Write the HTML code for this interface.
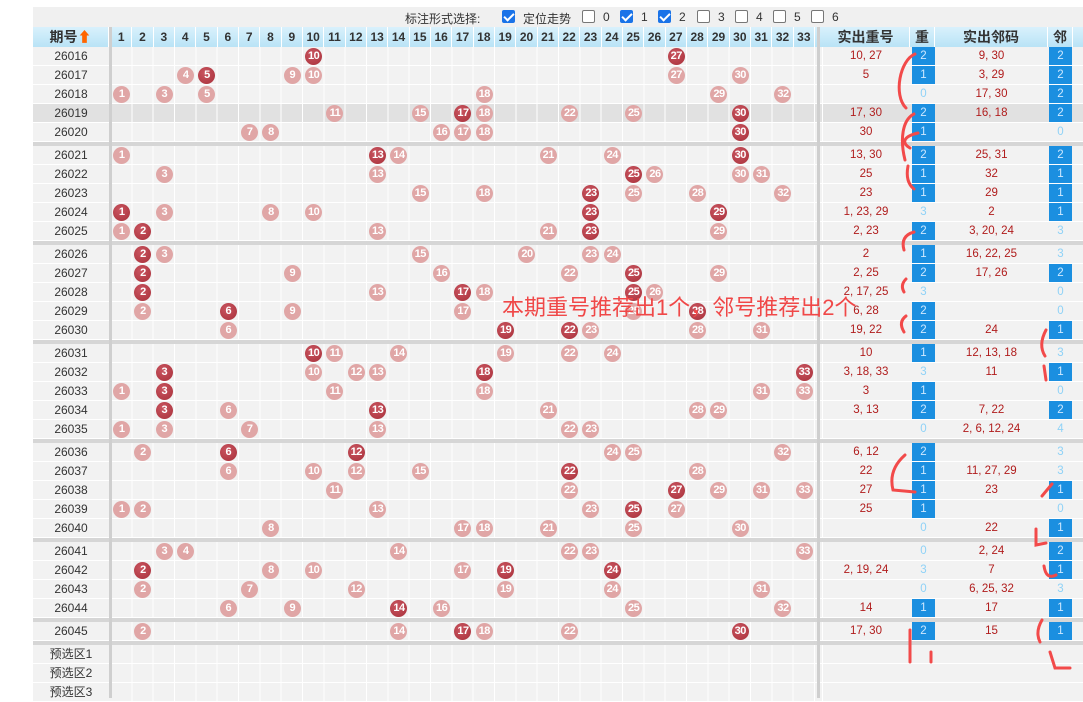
<!DOCTYPE html>
<html><head><meta charset="utf-8">
<style>
*{margin:0;padding:0;box-sizing:border-box}
body{width:1083px;height:698px;background:#fff;position:relative;overflow:hidden;font-family:"Liberation Sans","Noto Sans CJK SC",sans-serif;font-size:12px;color:#333}
.top{position:absolute;left:33px;top:7px;width:1050px;height:20px;background:#f0f0f0}
.top span{position:absolute;top:3px;font-size:12px;color:#333}
.cb{position:absolute;top:3px;width:13px;height:13px;border:1px solid #777;border-radius:2px;background:#fff}
.cb.on{background:#1a73e8;border-color:#1a73e8}
.cb.on:after{content:"";position:absolute;left:3px;top:0px;width:4px;height:8px;border:solid #fff;border-width:0 2px 2px 0;transform:rotate(45deg)}
.hd{position:absolute;left:33px;top:27px;width:1050px;height:20px;background:linear-gradient(#d9f1fc,#b9e3f6)}
.hd span{position:absolute;top:0;height:20px;line-height:20px;text-align:center;font-weight:bold;color:#333;border-right:1px solid #fff}
.hn{position:absolute;left:78px;top:0;width:704px;height:20px;}
.hn span{width:21.333px;font-size:12px}
.r{position:absolute;left:33px;width:1050px;height:19px;background:#f2f2f2;border-bottom:1px solid #fff}
.r.hl{background:#e1e1e1}
.r .p{position:absolute;left:0;width:76px;text-align:center;line-height:19px;color:#333}
.r:before{content:"";position:absolute;left:78px;top:0;width:704px;height:19px;background:repeating-linear-gradient(to right,transparent 0 20.333px,#fff 20.333px 21.333px)}
.b{position:absolute;top:1px;left:calc(var(--n)*21.333px + 58.8px);width:17px;height:17px;border-radius:50%;color:#fff;font-weight:bold;font-style:normal;font-size:11px;line-height:17px;text-align:center;letter-spacing:-0.5px}
.d{background:radial-gradient(circle at 40% 35%,#c95560,#a8303a)}
.l{background:#e0a6a6}
.c1,.c3{position:absolute;top:0;line-height:19px;text-align:center;color:#b01c1c;font-size:11.5px}
.c1{left:789px;width:88px}
.c3{left:902px;width:113px}
.c2,.c4{position:absolute;top:0;height:18px;line-height:18px;text-align:center;color:#8fd2f7;font-size:11.5px}
.c2{left:879px;width:23px}
.c4{left:1016px;width:23px}
.bl{background:#1b8fe0;color:#cfe9ff}
.sep{position:absolute;left:33px;width:1050px;height:4px;background:#d6d6d6}
.vl{position:absolute;top:27px;width:3px;height:671px;background:#cfcfcf}
.rc:after{content:"";position:absolute;left:789px;top:0;width:1px;height:19px;background:#fff}
</style></head><body>
<div class="top">
<span style="left:372px">标注形式选择:</span>
<div class="cb on" style="left:469px"></div><span style="left:490px">定位走势</span>
<div class="cb" style="left:549px"></div><span style="left:570px">0</span>
<div class="cb on" style="left:587px"></div><span style="left:608px">1</span>
<div class="cb on" style="left:625px"></div><span style="left:646px">2</span>
<div class="cb" style="left:664px"></div><span style="left:685px">3</span>
<div class="cb" style="left:702px"></div><span style="left:723px">4</span>
<div class="cb" style="left:740px"></div><span style="left:761px">5</span>
<div class="cb" style="left:778px"></div><span style="left:799px">6</span>
</div>
<div class="hd">
<span style="left:0;width:76px;font-size:14px">期号<b style="color:#f60">⬆</b></span>
<div class="hn">
<span style="left:0">1</span><span style="left:21.33px">2</span><span style="left:42.67px">3</span><span style="left:64px">4</span><span style="left:85.33px">5</span><span style="left:106.67px">6</span><span style="left:128px">7</span><span style="left:149.33px">8</span><span style="left:170.67px">9</span><span style="left:192px">10</span><span style="left:213.33px">11</span><span style="left:234.67px">12</span><span style="left:256px">13</span><span style="left:277.33px">14</span><span style="left:298.67px">15</span><span style="left:320px">16</span><span style="left:341.33px">17</span><span style="left:362.67px">18</span><span style="left:384px">19</span><span style="left:405.33px">20</span><span style="left:426.67px">21</span><span style="left:448px">22</span><span style="left:469.33px">23</span><span style="left:490.67px">24</span><span style="left:512px">25</span><span style="left:533.33px">26</span><span style="left:554.67px">27</span><span style="left:576px">28</span><span style="left:597.33px">29</span><span style="left:618.67px">30</span><span style="left:640px">31</span><span style="left:661.33px">32</span><span style="left:682.67px">33</span>
</div>
<span style="left:789px;width:88px;font-size:14px">实出重号</span>
<span style="left:877px;width:25px;font-size:14px">重</span>
<span style="left:902px;width:113px;font-size:14px">实出邻码</span>
<span style="left:1015px;width:25px;font-size:14px">邻</span>
</div>

<div class="r rc" style="top:47px"><span class="p">26016</span><i class="b d" style="--n:10">10</i><i class="b d" style="--n:27">27</i><span class="c1">10, 27</span><span class="c2 bl">2</span><span class="c3">9, 30</span><span class="c4 bl">2</span></div>
<div class="r rc" style="top:66px"><span class="p">26017</span><i class="b l" style="--n:4">4</i><i class="b d" style="--n:5">5</i><i class="b l" style="--n:9">9</i><i class="b l" style="--n:10">10</i><i class="b l" style="--n:27">27</i><i class="b l" style="--n:30">30</i><span class="c1">5</span><span class="c2 bl">1</span><span class="c3">3, 29</span><span class="c4 bl">2</span></div>
<div class="r rc" style="top:85px"><span class="p">26018</span><i class="b l" style="--n:1">1</i><i class="b l" style="--n:3">3</i><i class="b l" style="--n:5">5</i><i class="b l" style="--n:18">18</i><i class="b l" style="--n:29">29</i><i class="b l" style="--n:32">32</i><span class="c2">0</span><span class="c3">17, 30</span><span class="c4 bl">2</span></div>
<div class="r rc hl" style="top:104px"><span class="p">26019</span><i class="b l" style="--n:11">11</i><i class="b l" style="--n:15">15</i><i class="b d" style="--n:17">17</i><i class="b l" style="--n:18">18</i><i class="b l" style="--n:22">22</i><i class="b l" style="--n:25">25</i><i class="b d" style="--n:30">30</i><span class="c1">17, 30</span><span class="c2 bl">2</span><span class="c3">16, 18</span><span class="c4 bl">2</span></div>
<div class="r rc" style="top:123px"><span class="p">26020</span><i class="b l" style="--n:7">7</i><i class="b l" style="--n:8">8</i><i class="b l" style="--n:16">16</i><i class="b l" style="--n:17">17</i><i class="b l" style="--n:18">18</i><i class="b d" style="--n:30">30</i><span class="c1">30</span><span class="c2 bl">1</span><span class="c4">0</span></div>
<div class="sep" style="top:142px"></div>

<div class="r rc" style="top:146px"><span class="p">26021</span><i class="b l" style="--n:1">1</i><i class="b d" style="--n:13">13</i><i class="b l" style="--n:14">14</i><i class="b l" style="--n:21">21</i><i class="b l" style="--n:24">24</i><i class="b d" style="--n:30">30</i><span class="c1">13, 30</span><span class="c2 bl">2</span><span class="c3">25, 31</span><span class="c4 bl">2</span></div>
<div class="r rc" style="top:165px"><span class="p">26022</span><i class="b l" style="--n:3">3</i><i class="b l" style="--n:13">13</i><i class="b d" style="--n:25">25</i><i class="b l" style="--n:26">26</i><i class="b l" style="--n:30">30</i><i class="b l" style="--n:31">31</i><span class="c1">25</span><span class="c2 bl">1</span><span class="c3">32</span><span class="c4 bl">1</span></div>
<div class="r rc" style="top:184px"><span class="p">26023</span><i class="b l" style="--n:15">15</i><i class="b l" style="--n:18">18</i><i class="b d" style="--n:23">23</i><i class="b l" style="--n:25">25</i><i class="b l" style="--n:28">28</i><i class="b l" style="--n:32">32</i><span class="c1">23</span><span class="c2 bl">1</span><span class="c3">29</span><span class="c4 bl">1</span></div>
<div class="r rc" style="top:203px"><span class="p">26024</span><i class="b d" style="--n:1">1</i><i class="b l" style="--n:3">3</i><i class="b l" style="--n:8">8</i><i class="b l" style="--n:10">10</i><i class="b d" style="--n:23">23</i><i class="b d" style="--n:29">29</i><span class="c1">1, 23, 29</span><span class="c2">3</span><span class="c3">2</span><span class="c4 bl">1</span></div>
<div class="r rc" style="top:222px"><span class="p">26025</span><i class="b l" style="--n:1">1</i><i class="b d" style="--n:2">2</i><i class="b l" style="--n:13">13</i><i class="b l" style="--n:21">21</i><i class="b d" style="--n:23">23</i><i class="b l" style="--n:29">29</i><span class="c1">2, 23</span><span class="c2 bl">2</span><span class="c3">3, 20, 24</span><span class="c4">3</span></div>
<div class="sep" style="top:241px"></div>

<div class="r rc" style="top:245px"><span class="p">26026</span><i class="b d" style="--n:2">2</i><i class="b l" style="--n:3">3</i><i class="b l" style="--n:15">15</i><i class="b l" style="--n:20">20</i><i class="b l" style="--n:23">23</i><i class="b l" style="--n:24">24</i><span class="c1">2</span><span class="c2 bl">1</span><span class="c3">16, 22, 25</span><span class="c4">3</span></div>
<div class="r rc" style="top:264px"><span class="p">26027</span><i class="b d" style="--n:2">2</i><i class="b l" style="--n:9">9</i><i class="b l" style="--n:16">16</i><i class="b l" style="--n:22">22</i><i class="b d" style="--n:25">25</i><i class="b l" style="--n:29">29</i><span class="c1">2, 25</span><span class="c2 bl">2</span><span class="c3">17, 26</span><span class="c4 bl">2</span></div>
<div class="r rc" style="top:283px"><span class="p">26028</span><i class="b d" style="--n:2">2</i><i class="b l" style="--n:13">13</i><i class="b d" style="--n:17">17</i><i class="b l" style="--n:18">18</i><i class="b d" style="--n:25">25</i><i class="b l" style="--n:26">26</i><span class="c1">2, 17, 25</span><span class="c2">3</span><span class="c4">0</span></div>
<div class="r rc" style="top:302px"><span class="p">26029</span><i class="b l" style="--n:2">2</i><i class="b d" style="--n:6">6</i><i class="b l" style="--n:9">9</i><i class="b l" style="--n:17">17</i><i class="b l" style="--n:25">25</i><i class="b d" style="--n:28">28</i><span class="c1">6, 28</span><span class="c2 bl">2</span><span class="c4">0</span></div>
<div class="r rc" style="top:321px"><span class="p">26030</span><i class="b l" style="--n:6">6</i><i class="b d" style="--n:19">19</i><i class="b d" style="--n:22">22</i><i class="b l" style="--n:23">23</i><i class="b l" style="--n:28">28</i><i class="b l" style="--n:31">31</i><span class="c1">19, 22</span><span class="c2 bl">2</span><span class="c3">24</span><span class="c4 bl">1</span></div>
<div class="sep" style="top:340px"></div>

<div class="r rc" style="top:344px"><span class="p">26031</span><i class="b d" style="--n:10">10</i><i class="b l" style="--n:11">11</i><i class="b l" style="--n:14">14</i><i class="b l" style="--n:19">19</i><i class="b l" style="--n:22">22</i><i class="b l" style="--n:24">24</i><span class="c1">10</span><span class="c2 bl">1</span><span class="c3">12, 13, 18</span><span class="c4">3</span></div>
<div class="r rc" style="top:363px"><span class="p">26032</span><i class="b d" style="--n:3">3</i><i class="b l" style="--n:10">10</i><i class="b l" style="--n:12">12</i><i class="b l" style="--n:13">13</i><i class="b d" style="--n:18">18</i><i class="b d" style="--n:33">33</i><span class="c1">3, 18, 33</span><span class="c2">3</span><span class="c3">11</span><span class="c4 bl">1</span></div>
<div class="r rc" style="top:382px"><span class="p">26033</span><i class="b l" style="--n:1">1</i><i class="b d" style="--n:3">3</i><i class="b l" style="--n:11">11</i><i class="b l" style="--n:18">18</i><i class="b l" style="--n:31">31</i><i class="b l" style="--n:33">33</i><span class="c1">3</span><span class="c2 bl">1</span><span class="c4">0</span></div>
<div class="r rc" style="top:401px"><span class="p">26034</span><i class="b d" style="--n:3">3</i><i class="b l" style="--n:6">6</i><i class="b d" style="--n:13">13</i><i class="b l" style="--n:21">21</i><i class="b l" style="--n:28">28</i><i class="b l" style="--n:29">29</i><span class="c1">3, 13</span><span class="c2 bl">2</span><span class="c3">7, 22</span><span class="c4 bl">2</span></div>
<div class="r rc" style="top:420px"><span class="p">26035</span><i class="b l" style="--n:1">1</i><i class="b l" style="--n:3">3</i><i class="b l" style="--n:7">7</i><i class="b l" style="--n:13">13</i><i class="b l" style="--n:22">22</i><i class="b l" style="--n:23">23</i><span class="c2">0</span><span class="c3">2, 6, 12, 24</span><span class="c4">4</span></div>
<div class="sep" style="top:439px"></div>

<div class="r rc" style="top:443px"><span class="p">26036</span><i class="b l" style="--n:2">2</i><i class="b d" style="--n:6">6</i><i class="b d" style="--n:12">12</i><i class="b l" style="--n:24">24</i><i class="b l" style="--n:25">25</i><i class="b l" style="--n:32">32</i><span class="c1">6, 12</span><span class="c2 bl">2</span><span class="c4">3</span></div>
<div class="r rc" style="top:462px"><span class="p">26037</span><i class="b l" style="--n:6">6</i><i class="b l" style="--n:10">10</i><i class="b l" style="--n:12">12</i><i class="b l" style="--n:15">15</i><i class="b d" style="--n:22">22</i><i class="b l" style="--n:28">28</i><span class="c1">22</span><span class="c2 bl">1</span><span class="c3">11, 27, 29</span><span class="c4">3</span></div>
<div class="r rc" style="top:481px"><span class="p">26038</span><i class="b l" style="--n:11">11</i><i class="b l" style="--n:22">22</i><i class="b d" style="--n:27">27</i><i class="b l" style="--n:29">29</i><i class="b l" style="--n:31">31</i><i class="b l" style="--n:33">33</i><span class="c1">27</span><span class="c2 bl">1</span><span class="c3">23</span><span class="c4 bl">1</span></div>
<div class="r rc" style="top:500px"><span class="p">26039</span><i class="b l" style="--n:1">1</i><i class="b l" style="--n:2">2</i><i class="b l" style="--n:13">13</i><i class="b l" style="--n:23">23</i><i class="b d" style="--n:25">25</i><i class="b l" style="--n:27">27</i><span class="c1">25</span><span class="c2 bl">1</span><span class="c4">0</span></div>
<div class="r rc" style="top:519px"><span class="p">26040</span><i class="b l" style="--n:8">8</i><i class="b l" style="--n:17">17</i><i class="b l" style="--n:18">18</i><i class="b l" style="--n:21">21</i><i class="b l" style="--n:25">25</i><i class="b l" style="--n:30">30</i><span class="c2">0</span><span class="c3">22</span><span class="c4 bl">1</span></div>
<div class="sep" style="top:538px"></div>

<div class="r rc" style="top:542px"><span class="p">26041</span><i class="b l" style="--n:3">3</i><i class="b l" style="--n:4">4</i><i class="b l" style="--n:14">14</i><i class="b l" style="--n:22">22</i><i class="b l" style="--n:23">23</i><i class="b l" style="--n:33">33</i><span class="c2">0</span><span class="c3">2, 24</span><span class="c4 bl">2</span></div>
<div class="r rc" style="top:561px"><span class="p">26042</span><i class="b d" style="--n:2">2</i><i class="b l" style="--n:8">8</i><i class="b l" style="--n:10">10</i><i class="b l" style="--n:17">17</i><i class="b d" style="--n:19">19</i><i class="b d" style="--n:24">24</i><span class="c1">2, 19, 24</span><span class="c2">3</span><span class="c3">7</span><span class="c4 bl">1</span></div>
<div class="r rc" style="top:580px"><span class="p">26043</span><i class="b l" style="--n:2">2</i><i class="b l" style="--n:7">7</i><i class="b l" style="--n:12">12</i><i class="b l" style="--n:19">19</i><i class="b l" style="--n:24">24</i><i class="b l" style="--n:31">31</i><span class="c2">0</span><span class="c3">6, 25, 32</span><span class="c4">3</span></div>
<div class="r rc" style="top:599px"><span class="p">26044</span><i class="b l" style="--n:6">6</i><i class="b l" style="--n:9">9</i><i class="b d" style="--n:14">14</i><i class="b l" style="--n:16">16</i><i class="b l" style="--n:25">25</i><i class="b l" style="--n:32">32</i><span class="c1">14</span><span class="c2 bl">1</span><span class="c3">17</span><span class="c4 bl">1</span></div>
<div class="sep" style="top:618px"></div>

<div class="r rc" style="top:622px"><span class="p">26045</span><i class="b l" style="--n:2">2</i><i class="b l" style="--n:14">14</i><i class="b d" style="--n:17">17</i><i class="b l" style="--n:18">18</i><i class="b l" style="--n:22">22</i><i class="b d" style="--n:30">30</i><span class="c1">17, 30</span><span class="c2 bl">2</span><span class="c3">15</span><span class="c4 bl">1</span></div>
<div class="sep" style="top:641px"></div>

<div class="r rc" style="top:645px"><span class="p">预选区1</span></div>
<div class="r rc" style="top:664px"><span class="p">预选区2</span></div>
<div class="r rc" style="top:683px"><span class="p">预选区3</span></div>

<div class="vl" style="left:109px"></div>
<div class="vl" style="left:817px"></div>

<div style="position:absolute;left:502px;top:290px;font-size:22px;color:#f04848;white-space:nowrap">本期重号推荐出1个，邻号推荐出2个</div>

<svg width="1083" height="698" style="position:absolute;left:0;top:0" fill="none" stroke="#f24a4a" stroke-width="3" stroke-linecap="round">
<path d="M915,54 C900,60 893,95 906,108"/>
<path d="M914,114 C902,120 900,140 905,160"/>
<path d="M918,133 C905,136 900,142 910,148"/>
<path d="M908,166 Q905,182 914,189"/>
<path d="M914,232 Q900,236 904,250"/>
<path d="M906,279 Q900,285 904,292"/>
<path d="M906,316 Q898,322 904,332"/>
<path d="M905,455 Q888,470 893,490 L915,492"/>
<path d="M1046,330 Q1038,345 1045,356"/>
<path d="M1044,366 L1046,380"/>
<path d="M1052,484 L1042,496"/>
<path d="M1036,529 L1036,545 L1046,543"/>
<path d="M1044,566 Q1046,580 1056,575"/>
<path d="M1042,620 Q1035,632 1040,642"/>
<path d="M910,630 L910,662 M931,652 L931,662"/>
<path d="M1050,652 L1055,668 L1070,668"/>
</svg>
</body></html>
